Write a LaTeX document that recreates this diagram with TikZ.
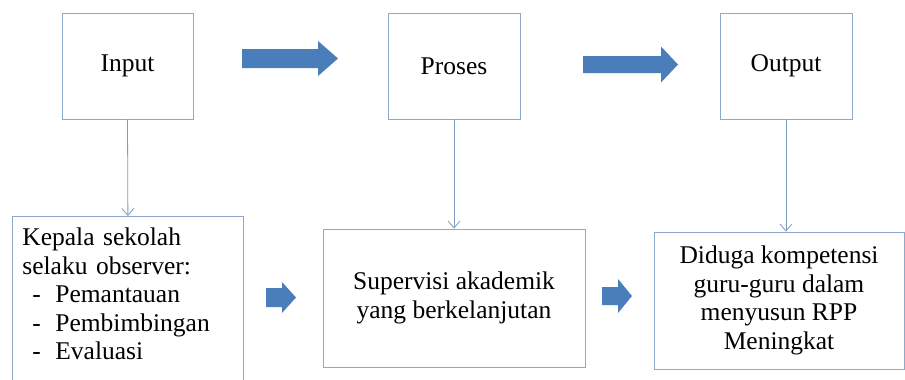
\documentclass[tikz,border=0pt]{standalone}
\usepackage{fontspec}
\setmainfont{Liberation Serif}
\usepackage{tikz}
\usetikzlibrary{arrows.meta}
\definecolor{boxline}{HTML}{8EA9CB}
\definecolor{connline}{HTML}{7F9DC2}
\definecolor{fatblue}{HTML}{4A7EBB}
\tikzset{
  box/.style={draw=boxline, line width=0.8pt, fill=white, inner sep=0pt,
    font=\fontsize{25.5}{28.5}\selectfont, align=center},
  conn/.style={draw=connline, line width=0.8pt,
    -{Straight Barb[length=7pt,width=12pt,line width=0.8pt]}},
  fat/.style={fill=fatblue},
}
% fat arrow: x0, x1, y centre, shaft half, head half, head length
\newcommand{\fatarrow}[6]{%
  \fill[fat] (#1,#3-#4) -- (#2-#6,#3-#4) -- (#2-#6,#3-#5) -- (#2,#3)
    -- (#2-#6,#3+#5) -- (#2-#6,#3+#4) -- (#1,#3+#4) -- cycle;}
\newcommand{\itm}[1]{\hspace*{10pt}\makebox[23pt][l]{-}#1}

\begin{document}
\begin{tikzpicture}[x=1pt,y=-1pt]
  \useasboundingbox[fill=white] (0,0) rectangle (905,380);

  % top row
  \node[box, minimum width=131pt, minimum height=106pt] (inp) at (127.5,66) {Input};
  \node[box, minimum width=132pt, minimum height=106pt] (pros) at (454,66) {Proses};
  \node[box, minimum width=132pt, minimum height=106pt] (outp) at (786,66) {Output};

  % bottom row
  \node[box, anchor=north west, align=left, text width=211pt,
    inner xsep=10pt, inner ysep=11.5pt] (kepala) at (12,216)
    {Kepala sekolah\\ selaku observer:\\ \itm{Pemantauan}\\ \itm{Pembimbingan}\\ \itm{Evaluasi}\\ \mbox{}};
  \node[box, minimum width=262pt, minimum height=138pt] (sup) at (454,298)
    {Supervisi akademik\\ yang berkelanjutan};
  \node[box, minimum width=250pt, minimum height=137pt] (diduga) at (779,300.5)
    {Diduga kompetensi\\ guru-guru dalam\\ menyusun RPP\\ Meningkat};

  % thin connectors
  \draw[conn] (inp.south) -- (kepala.north);
  \draw[conn] (pros.south) -- (sup.north);
  \draw[conn] (outp.south) -- (outp.south |- diduga.north);

  % fat arrows
  \fatarrow{242}{338}{58.5}{9.5}{17.5}{20}
  \fatarrow{583}{678}{64.5}{8.5}{18}{17}
  \fatarrow{266}{296}{297.5}{9.5}{15.5}{14}
  \fatarrow{602}{632}{296}{9}{17}{14}
\end{tikzpicture}
\end{document}
